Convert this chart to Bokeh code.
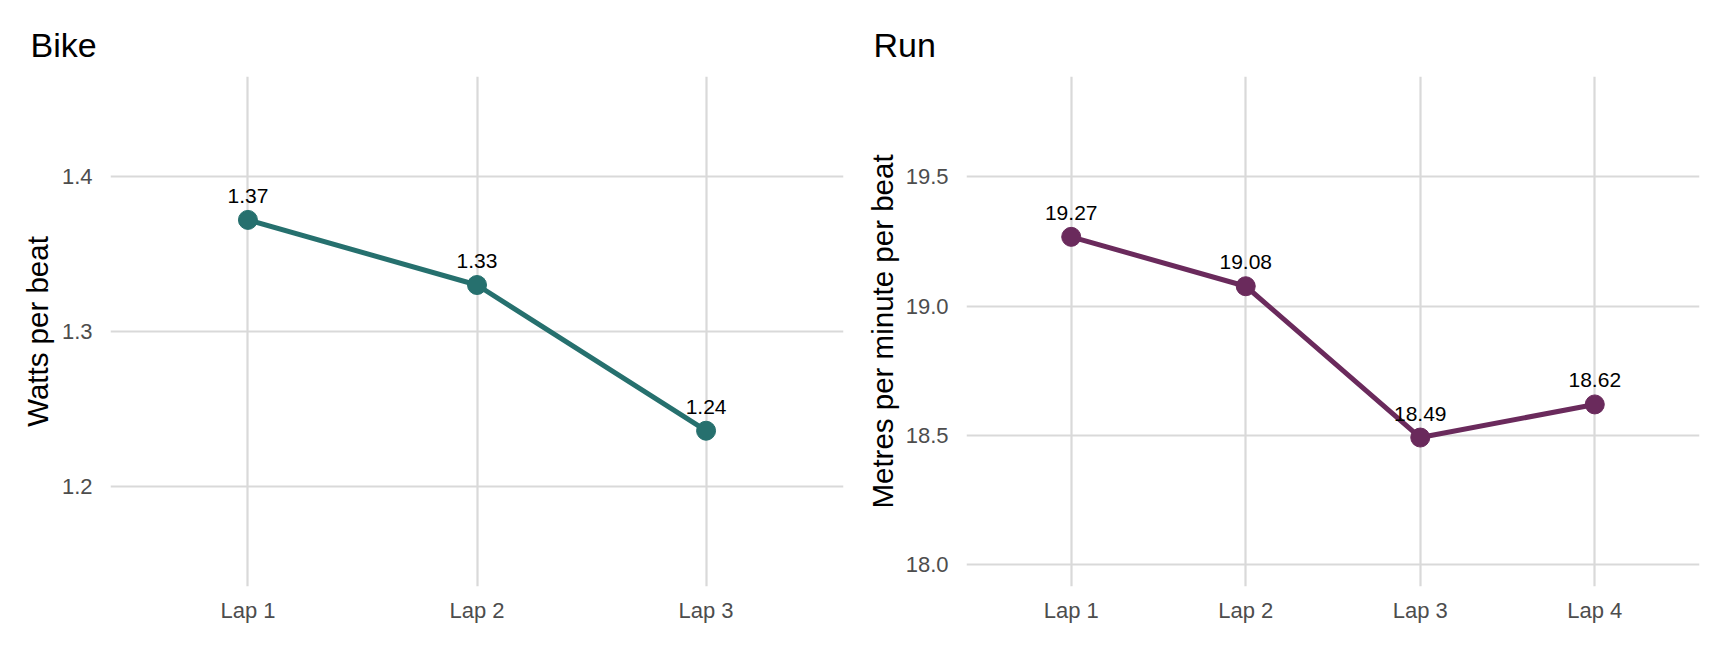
from bokeh.plotting import figure
from bokeh.models import FactorRange, Range1d, FixedTicker, ColumnDataSource, NumeralTickFormatter
from bokeh.layouts import row
from bokeh.core.properties import value
from bokeh.embed import file_html
from bokeh.resources import INLINE

# ---- data ----
bike_laps = ["Lap 1", "Lap 2", "Lap 3"]
bike_values = [1.372, 1.330, 1.236]
bike_ticks = [1.2, 1.3, 1.4]

run_laps = ["Lap 1", "Lap 2", "Lap 3", "Lap 4"]
run_values = [19.268, 19.077, 18.492, 18.620]
run_ticks = [18.0, 18.5, 19.0, 19.5]

FONT = "Liberation Sans"
HEIGHT = 650


def make_panel(title, laps, values, ticks, ylim, ylabel, color, width,
               left, right, title_offset, label_standoff):
    src = ColumnDataSource(dict(lap=laps, val=values,
                                txt=[f"{v:.2f}" for v in values]))
    p = figure(x_range=FactorRange(factors=laps, range_padding=0.1,
                                   range_padding_units="absolute"),
               y_range=Range1d(*ylim),
               width=width, height=HEIGHT, output_backend="svg",
               toolbar_location=None, min_border_left=left,
               min_border_right=right, min_border_top=76,
               min_border_bottom=HEIGHT - 586)
    p.outline_line_color = None
    p.background_fill_color = "white"
    p.border_fill_color = "white"

    p.title.text = title
    p.title.text_font = FONT
    p.title.text_font_size = "34px"
    p.title.text_font_style = "normal"
    p.title.text_color = "black"
    p.title.align = "left"
    p.title.offset = title_offset
    p.title.standoff = 26

    p.line("lap", "val", source=src, line_color=color, line_width=5)
    p.scatter("lap", "val", source=src, size=19, fill_color=color,
              line_color=color)
    p.text("lap", "val", text="txt", source=src, text_font=value(FONT),
           text_font_size="21px", text_color="black", text_align="center",
           text_baseline="alphabetic", y_offset=-24)

    for ax in (p.xaxis, p.yaxis):
        ax.axis_line_color = None
        ax.major_tick_line_color = None
        ax.minor_tick_line_color = None
        ax.major_tick_out = 0
        ax.major_tick_in = 0
        ax.major_label_text_font = FONT
        ax.major_label_text_font_size = "22px"
        ax.major_label_text_color = "#4D4D4D"
    p.xaxis.major_label_standoff = 11
    p.yaxis.major_label_standoff = 18
    p.yaxis.ticker = FixedTicker(ticks=ticks)
    p.yaxis.formatter = NumeralTickFormatter(format="0.0")
    p.yaxis.axis_label = ylabel
    p.yaxis.axis_label_text_font = FONT
    p.yaxis.axis_label_text_font_size = "29.5px"
    p.yaxis.axis_label_text_font_style = "normal"
    p.yaxis.axis_label_text_color = "black"
    p.yaxis.axis_label_standoff = label_standoff

    p.xgrid.grid_line_color = "#D9D9D9"
    p.xgrid.grid_line_width = 2.2
    p.ygrid.grid_line_color = "#D9D9D9"
    p.ygrid.grid_line_width = 2.2
    p.ygrid.ticker = FixedTicker(ticks=ticks)
    return p


p1 = make_panel("Bike", bike_laps, bike_values, bike_ticks, (1.1355, 1.4645),
                "Watts per beat", "#26706E", 858, 110, 15, -80, 5)
p2 = make_panel("Run", run_laps, run_values, run_ticks, (17.916, 19.888),
                "Metres per minute per beat", "#6A2A5C", 868, 108, 27, -93, 4)

layout = row(p1, p2)
open("out.html", "w").write(file_html(layout, INLINE))
